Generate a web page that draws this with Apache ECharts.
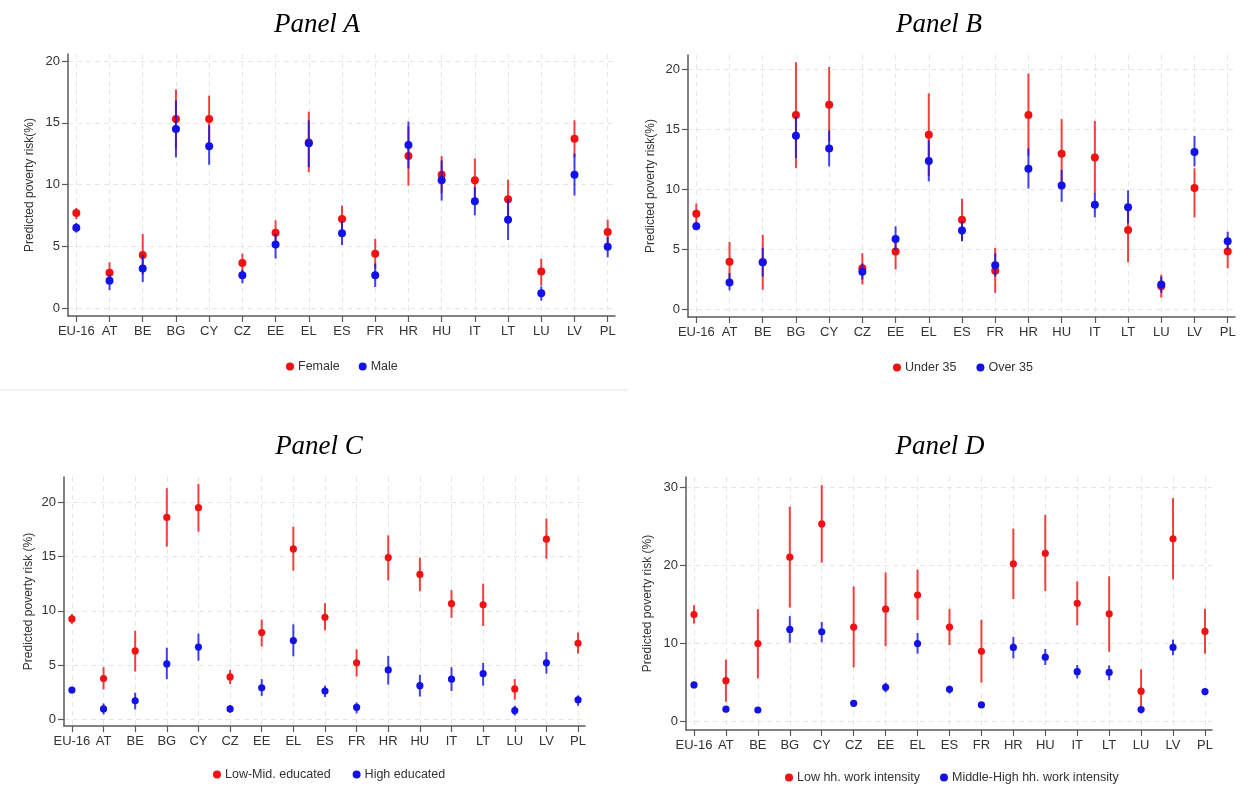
<!DOCTYPE html>
<html>
<head>
<meta charset="utf-8">
<script src="https://cdn.jsdelivr.net/npm/echarts@6/dist/echarts.min.js"></script>
<style>
  html, body { margin: 0; padding: 0; background: #fff; }
  #chart { width: 1246px; height: 786px; }
</style>
</head>
<body>
<div id="chart"></div>
<script>
// 国家
var countries = ['EU-16', 'AT', 'BE', 'BG', 'CY', 'CZ', 'EE', 'EL', 'ES', 'FR', 'HR', 'HU', 'IT', 'LT', 'LU', 'LV', 'PL']

// 每个点: [估计值, 下限, 上限]
// Panel A
var female = [[7.7, 7.2, 8.1], [2.85, 2.3, 3.7], [4.3, 2.7, 6.0], [15.3, 12.9, 17.7], [15.3, 13.3, 17.2], [3.65, 2.9, 4.4], [6.1, 5.0, 7.1], [13.4, 11.0, 15.9], [7.2, 6.1, 8.3], [4.4, 3.2, 5.6], [12.3, 9.9, 14.7], [10.8, 9.3, 12.3], [10.35, 8.6, 12.1], [8.8, 7.2, 10.4], [2.95, 1.8, 4.0], [13.7, 12.2, 15.2], [6.15, 5.1, 7.15]]
var male = [[6.5, 6.1, 6.9], [2.2, 1.45, 2.7], [3.2, 2.1, 4.3], [14.5, 12.2, 16.8], [13.1, 11.6, 14.8], [2.65, 2.0, 3.1], [5.15, 4.0, 6.0], [13.35, 11.4, 15.2], [6.05, 5.1, 7.0], [2.65, 1.7, 3.6], [13.2, 11.3, 15.1], [10.35, 8.7, 11.95], [8.65, 7.5, 9.8], [7.15, 5.5, 8.8], [1.2, 0.6, 1.75], [10.8, 9.1, 12.5], [4.95, 4.1, 5.75]]
// Panel B
var under35 = [[7.95, 7.2, 8.8], [3.95, 2.5, 5.6], [3.9, 1.6, 6.2], [16.2, 11.75, 20.6], [17.05, 14.0, 20.2], [3.4, 2.05, 4.65], [4.8, 3.3, 6.0], [14.55, 11.1, 18.0], [7.45, 5.7, 9.2], [3.2, 1.35, 5.1], [16.2, 12.8, 19.65], [12.95, 10.0, 15.85], [12.65, 9.6, 15.7], [6.6, 3.9, 8.55], [1.9, 0.95, 2.85], [10.1, 7.65, 11.75], [4.8, 3.4, 5.8]]
var over35 = [[6.9, 6.6, 7.3], [2.2, 1.55, 3.0], [3.9, 2.7, 5.1], [14.45, 12.6, 16.05], [13.4, 11.9, 14.9], [3.1, 2.45, 3.8], [5.85, 4.9, 6.9], [12.35, 10.65, 14.1], [6.55, 5.65, 7.3], [3.65, 2.7, 4.65], [11.7, 10.05, 13.4], [10.3, 8.95, 11.6], [8.7, 7.65, 9.65], [8.5, 7.15, 9.9], [2.05, 1.35, 2.7], [13.1, 11.9, 14.45], [5.65, 4.95, 6.45]]
// Panel C
var lowMidEdu = [[9.25, 8.8, 9.7], [3.75, 2.75, 4.8], [6.3, 4.4, 8.15], [18.6, 15.9, 21.3], [19.5, 17.3, 21.7], [3.9, 3.25, 4.55], [8.0, 6.7, 9.2], [15.7, 13.7, 17.75], [9.4, 8.2, 10.7], [5.2, 3.95, 6.45], [14.9, 12.8, 16.95], [13.35, 11.8, 14.9], [10.65, 9.35, 11.9], [10.55, 8.6, 12.5], [2.8, 1.8, 3.7], [16.6, 14.8, 18.5], [7.0, 6.05, 8.0]]
var highEdu = [[2.7, 2.45, 2.95], [0.95, 0.45, 1.45], [1.7, 0.9, 2.45], [5.1, 3.7, 6.6], [6.65, 5.4, 7.9], [0.95, 0.6, 1.3], [2.9, 2.15, 3.7], [7.25, 5.8, 8.75], [2.6, 2.05, 3.1], [1.1, 0.55, 1.55], [4.55, 3.2, 5.85], [3.1, 2.1, 4.1], [3.7, 2.6, 4.8], [4.2, 3.1, 5.2], [0.8, 0.35, 1.25], [5.2, 4.2, 6.2], [1.8, 1.25, 2.2]]
// Panel D
var lowWork = [[13.7, 12.55, 14.9], [5.25, 2.55, 7.95], [10.0, 5.55, 14.4], [21.05, 14.6, 27.5], [25.3, 20.35, 30.25], [12.1, 6.95, 17.3], [14.4, 9.65, 19.1], [16.2, 13.0, 19.45], [12.1, 9.8, 14.45], [9.0, 5.0, 13.05], [20.2, 15.7, 24.7], [21.55, 16.7, 26.45], [15.15, 12.35, 17.95], [13.8, 8.95, 18.6], [3.9, 1.05, 6.7], [23.4, 18.2, 28.6], [11.55, 8.7, 14.45]]
var midHighWork = [[4.7, 4.4, 5.0], [1.6, 1.2, 1.9], [1.5, 1.3, 1.7], [11.8, 10.1, 13.5], [11.5, 10.15, 12.75], [2.35, 2.1, 2.6], [4.4, 3.75, 5.0], [10.0, 8.7, 11.35], [4.15, 3.6, 4.6], [2.15, 1.9, 2.4], [9.5, 8.1, 10.85], [8.25, 7.25, 9.3], [6.4, 5.55, 7.25], [6.3, 5.3, 7.2], [1.55, 1.3, 1.9], [9.5, 8.5, 10.5], [3.85, 3.4, 4.25]]

var yTicksA = [0, 5, 10, 15, 20]
var yTicksD = [0, 10, 20, 30]

var RED = '#f01212'
var BLUE = '#1212e8'
var FONT = 'Arial, "Liberation Sans", sans-serif'

var panels = [
  { title: 'Panel A', tx: 317, ty: 25, grid: { left: 68, top: 54, width: 547, height: 262 }, ymin: -0.65, ymax: 20.57, ticks: yTicksA, yname: 'Predicted poverty risk(%)', nameGap: 32, r: 4,
    series: [['Female', female, RED], ['Male', male, BLUE]], legend: { left: 281, top: 355, itemGap: 19 } },
  { title: 'Panel B', tx: 939, ty: 25, grid: { left: 688, top: 55, width: 547, height: 262 }, ymin: -0.67, ymax: 21.2, ticks: yTicksA, yname: 'Predicted poverty risk(%)', nameGap: 31, r: 4,
    series: [['Under 35', under35, RED], ['Over 35', over35, BLUE]], legend: { left: 888, top: 356, itemGap: 20 } },
  { title: 'Panel C', tx: 319, ty: 447, grid: { left: 64, top: 477, width: 521, height: 249 }, ymin: -0.62, ymax: 22.33, ticks: yTicksA, yname: 'Predicted poverty risk (%)', nameGap: 29, r: 3.6,
    series: [['Low-Mid. educated', lowMidEdu, RED], ['High educated', highEdu, BLUE]], legend: { left: 208, top: 763, itemGap: 22 } },
  { title: 'Panel D', tx: 940, ty: 447, grid: { left: 686, top: 477, width: 526, height: 253 }, ymin: -1.06, ymax: 31.3, ticks: yTicksD, yname: 'Predicted poverty risk (%)', nameGap: 32, r: 3.6,
    series: [['Low hh. work intensity', lowWork, RED], ['Middle-High hh. work intensity', midHighWork, BLUE]], legend: { left: 780, top: 766, itemGap: 20 } }
]

var xIdx = countries.map(function (c, i) { return i })
var dashed = { show: true, lineStyle: { color: '#e6e6e6', type: [5, 4], width: 1 } }
var axisLine = { show: true, onZero: false, lineStyle: { color: '#5a5a5a', width: 1.5 } }
var tickStyle = { show: true, length: 6, lineStyle: { color: '#5a5a5a', width: 1.2 } }

function errSeries(name, data, color, i, r) {
  return {
    name: name,
    type: 'custom',
    xAxisIndex: i,
    yAxisIndex: i,
    itemStyle: { color: color },
    encode: { x: 0, y: [1, 2, 3] },
    data: data.map(function (d, k) { return [k, d[0], d[1], d[2]] }),
    renderItem: function (params, api) {
      var x = api.value(0)
      var p = api.coord([x, api.value(1)])
      var lo = api.coord([x, api.value(2)])
      var hi = api.coord([x, api.value(3)])
      return {
        type: 'group',
        children: [
          { type: 'line', shape: { x1: lo[0], y1: lo[1], x2: hi[0], y2: hi[1] }, style: { stroke: color, lineWidth: 2, opacity: 0.8 } },
          { type: 'circle', shape: { cx: p[0], cy: p[1], r: r }, style: { fill: color } }
        ]
      }
    }
  }
}

var grids = [], xAxes = [], yAxes = [], series = [], legends = [], graphics = []
panels.forEach(function (p, i) {
  grids.push(p.grid)
  xAxes.push({
    type: 'value', gridIndex: i, min: -0.25, max: 16.22,
    axisLine: axisLine, axisTick: Object.assign({ customValues: xIdx }, tickStyle),
    axisLabel: { customValues: xIdx, color: '#333', fontSize: 13, fontFamily: FONT, margin: 9, formatter: function (v) { return countries[v] } },
    splitLine: dashed
  })
  yAxes.push({
    type: 'value', gridIndex: i, min: p.ymin, max: p.ymax,
    name: p.yname, nameLocation: 'middle', nameGap: p.nameGap,
    nameTextStyle: { color: '#333', fontSize: 12, fontFamily: FONT },
    axisLine: axisLine, axisTick: Object.assign({ customValues: p.ticks }, tickStyle),
    axisLabel: { customValues: p.ticks, color: '#333', fontSize: 13, fontFamily: FONT, margin: 8 },
    splitLine: dashed
  })
  p.series.forEach(function (s) { series.push(errSeries(s[0], s[1], s[2], i, p.r)) })
  legends.push(Object.assign({
    data: p.series.map(function (s) { return s[0] }),
    icon: 'circle', itemWidth: 8, itemHeight: 8, selectedMode: false,
    textStyle: { color: '#333', fontSize: 12.5, fontFamily: FONT, padding: [0, 0, 0, -1] }
  }, p.legend))
  graphics.push({
    type: 'text', x: p.tx, y: p.ty,
    style: { text: p.title, font: 'italic 27px "Liberation Serif", "Times New Roman", serif', fill: '#000', textAlign: 'center', textVerticalAlign: 'middle' }
  })
})

// Panel A 下方的浅色分隔线
graphics.push({ type: 'line', shape: { x1: 0, y1: 390, x2: 628, y2: 390 }, style: { stroke: '#ececec', lineWidth: 1.5 } })

var chart = echarts.init(document.getElementById('chart'))
chart.setOption({
  animation: false,
  backgroundColor: '#fff',
  grid: grids,
  xAxis: xAxes,
  yAxis: yAxes,
  legend: legends,
  graphic: graphics,
  series: series
}, true)
</script>
</body>
</html>
